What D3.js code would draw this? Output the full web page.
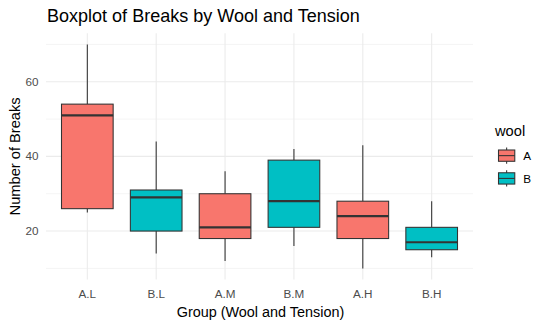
<!DOCTYPE html>
<html><head><meta charset="utf-8">
<script src="https://cdn.jsdelivr.net/npm/d3@7"></script>
<style>body{margin:0;background:#fff}svg{display:block}text{font-family:"Liberation Sans",Arial,sans-serif}</style>
</head><body>
<svg id="c" width="548" height="325"></svg>
<script>
const groups = ["A.L","B.L","A.M","B.M","A.H","B.H"];
const wool   = ["A","B","A","B","A","B"];
const lowerWhisker = [25,14,12,16,10,13];
const q1           = [26,20,18,21,18,15];
const median       = [51,29,21,28,24,17];
const q3           = [54,31,30,39,28,21];
const upperWhisker = [70,44,36,42,43,28];
const yTicks = [20,40,60];
const yMinor = [10,30,50,70];
const woolLevels = ["A","B"];
const woolColors = ["#F8766D","#00BFC4"];

const svg = d3.select("#c");
const L=46, R=473, T=33.2, B=279.6;
const step=(R-L)/(groups.length-1+1.2);
const xc = d3.scalePoint().domain(groups).range([L+0.6*step, R-0.6*step]);
const y = d3.scaleLinear().domain([7,73]).range([B,T]);
const col = d3.scaleOrdinal().domain(woolLevels).range(woolColors);

function fit(sel, target){
  const w = sel.node().getComputedTextLength();
  const fs = parseFloat(sel.attr("font-size"));
  if (w>0) sel.attr("font-size", (fs*target/w).toFixed(2)+"px");
}

const g = svg.append("g");
g.selectAll(".ymin").data(yMinor).join("line").attr("x1",L).attr("x2",R)
 .attr("y1",d=>y(d)).attr("y2",d=>y(d)).attr("stroke","#ebebeb").attr("stroke-width",0.55);
g.selectAll(".ymaj").data(yTicks).join("line").attr("x1",L).attr("x2",R)
 .attr("y1",d=>y(d)).attr("y2",d=>y(d)).attr("stroke","#ebebeb").attr("stroke-width",1.07);
g.selectAll(".xmaj").data(groups).join("line").attr("x1",d=>xc(d)).attr("x2",d=>xc(d))
 .attr("y1",T).attr("y2",B).attr("stroke","#ebebeb").attr("stroke-width",1.07);

const bw = 0.75*step;
const data = groups.map((gname,i)=>({g:gname,w:wool[i],lo:lowerWhisker[i],q1:q1[i],med:median[i],q3:q3[i],hi:upperWhisker[i]}));
const bx = g.selectAll(".box").data(data).join("g");
bx.append("line").attr("x1",d=>xc(d.g)).attr("x2",d=>xc(d.g)).attr("y1",d=>y(d.q3)).attr("y2",d=>y(d.hi))
 .attr("stroke","#333333").attr("stroke-width",1.07);
bx.append("line").attr("x1",d=>xc(d.g)).attr("x2",d=>xc(d.g)).attr("y1",d=>y(d.q1)).attr("y2",d=>y(d.lo))
 .attr("stroke","#333333").attr("stroke-width",1.07);
bx.append("rect").attr("x",d=>xc(d.g)-bw/2).attr("width",bw).attr("y",d=>y(d.q3)).attr("height",d=>y(d.q1)-y(d.q3))
 .attr("fill",d=>col(d.w)).attr("stroke","#333333").attr("stroke-width",1.07);
bx.append("line").attr("x1",d=>xc(d.g)-bw/2).attr("x2",d=>xc(d.g)+bw/2).attr("y1",d=>y(d.med)).attr("y2",d=>y(d.med))
 .attr("stroke","#333333").attr("stroke-width",2.2);

g.selectAll(".yl").data(yTicks).join("text").attr("x",38.5).attr("y",d=>y(d)).attr("dy","0.35em")
 .attr("text-anchor","end").attr("font-size","11.7px").attr("fill","#4d4d4d").text(d=>d);
g.selectAll(".xl").data(groups).join("text").attr("x",d=>xc(d)).attr("y",297.5)
 .attr("text-anchor","middle").attr("font-size","11.7px").attr("fill","#4d4d4d").text(d=>d);

const xt = svg.append("text").attr("x",260.5).attr("y",317.3).attr("text-anchor","middle")
 .attr("font-size","14.67px").attr("fill","#000").text("Group (Wool and Tension)");
fit(xt, 167.5);
const yt = svg.append("text").attr("transform",`translate(20,${(T+B)/2}) rotate(-90)`).attr("text-anchor","middle")
 .attr("font-size","14.67px").attr("fill","#000").text("Number of Breaks");
fit(yt, 118);
const tt = svg.append("text").attr("x",47).attr("y",22).attr("font-size","17.6px").attr("fill","#000")
 .text("Boxplot of Breaks by Wool and Tension");
fit(tt, 313);

const lg = svg.append("g");
lg.append("text").attr("x",495).attr("y",136).attr("font-size","14.67px").attr("fill","#000").text("wool");
const ks=17.28, kx=498;
woolLevels.forEach((w,i)=>{
  const ky = 147 + i*ks + i*5.5;
  const cx = kx+ks/2;
  lg.append("line").attr("x1",cx).attr("x2",cx).attr("y1",ky+0.5).attr("y2",ky+ks-0.5).attr("stroke","#333333").attr("stroke-width",1.07);
  lg.append("rect").attr("x",kx+0.5).attr("y",ky+3).attr("width",ks-1).attr("height",ks-6)
    .attr("fill",col(w)).attr("stroke","#333333").attr("stroke-width",1.07);
  lg.append("line").attr("x1",kx+0.5).attr("x2",kx+ks-0.5).attr("y1",ky+ks/2).attr("y2",ky+ks/2).attr("stroke","#333333").attr("stroke-width",1.07);
  lg.append("text").attr("x",kx+ks+8).attr("y",ky+ks/2).attr("dy","0.35em").attr("font-size","11.7px").attr("fill","#000").text(w);
});
</script>
</body></html>
